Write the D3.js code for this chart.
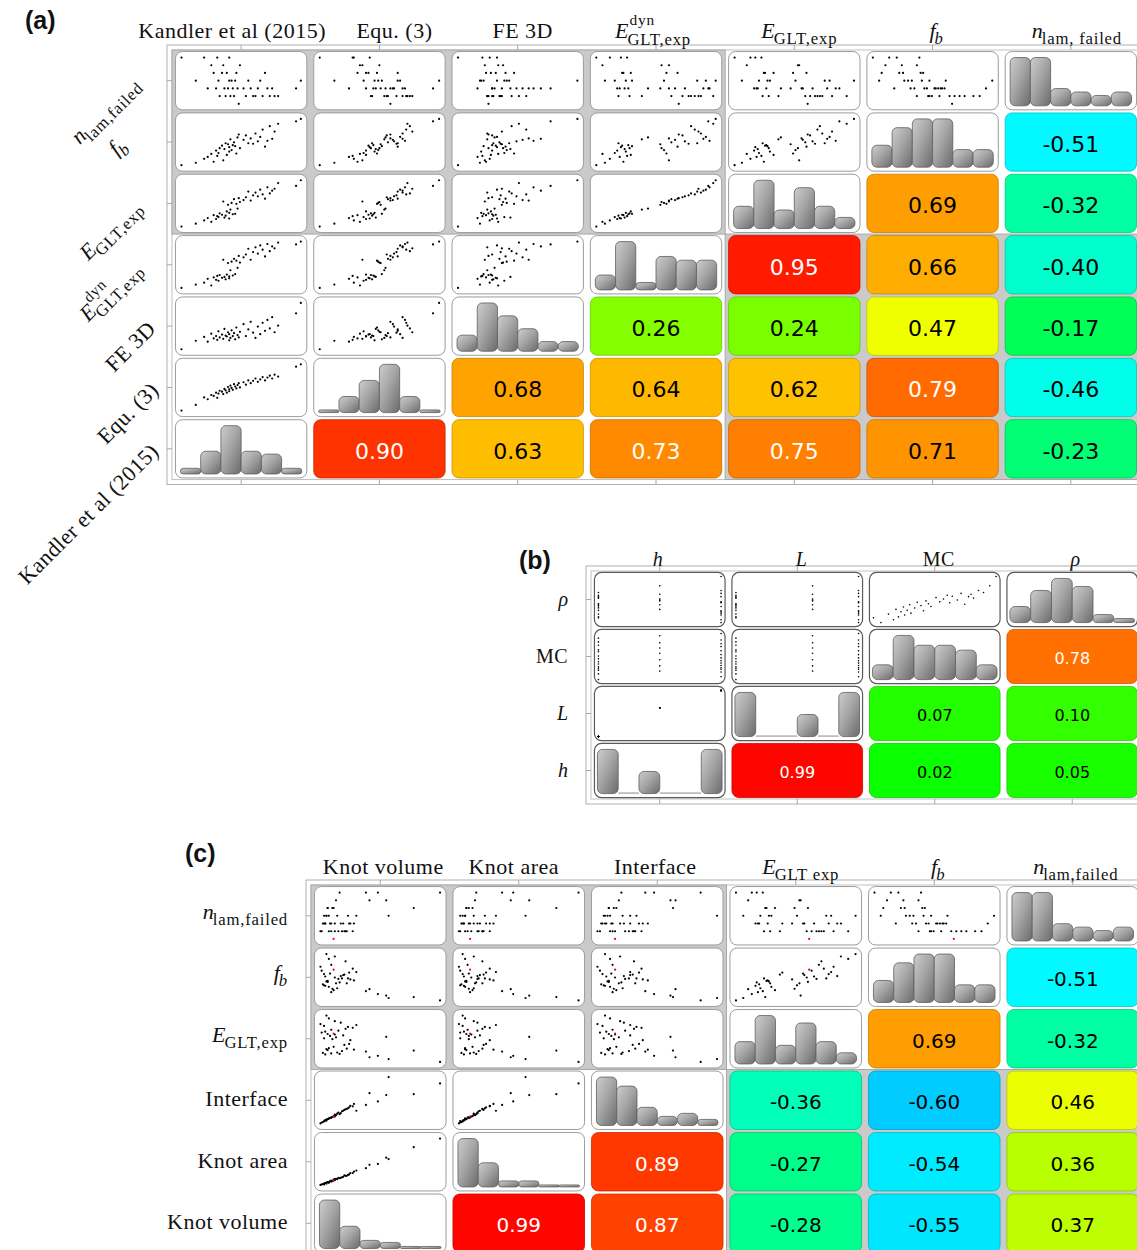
<!DOCTYPE html>
<html><head><meta charset="utf-8">
<script src="https://cdn.jsdelivr.net/npm/d3@7"></script>
<style>body{margin:0;background:#fff} svg{display:block}</style>
</head><body>
<svg id="chart" width="1137" height="1250"></svg>
<script>
// ---------------- DATA (values read/estimated from the picture) ----------------
// Panel (a)/(c): 44 specimens, normalised 0-100
const sampleKandler = [0,12,19,22,25,27,29,30,31,32,34,35,36,37,38,39,40,40,41,42,43,44,45,46,47,48,49,52,54,56,58,60,62,64,66,68,70,72,74,76,78,81,96,100];
const sampleEqu3    = [2,14,30,26,35,33,40,29,38,44,42,37,48,45,40,52,47,43,55,50,46,58,53,49,56,60,51,62,57,66,60,65,70,63,68,73,66,72,76,70,78,74,95,100];
const sampleFE3D    = [2,20,28,18,35,25,30,22,40,27,33,24,45,31,29,38,21,34,26,42,30,36,23,48,32,27,39,55,30,44,60,37,26,50,34,58,41,64,46,70,38,52,78,100];
const sampleEdyn    = [3,10,14,22,8,25,20,28,18,30,24,62,26,21,31,55,27,23,40,58,29,64,32,60,45,70,56,67,73,85,62,78,88,75,92,83,69,95,80,90,86,98,94,100];
const sampleEGLT    = [2,8,15,20,12,26,18,24,22,30,27,55,21,25,34,48,31,19,38,52,28,60,29,50,40,62,54,58,64,76,57,68,74,66,80,70,61,85,72,78,82,94,88,100];
const sampleFb      = [5,10,18,22,28,12,35,24,30,40,45,15,38,50,26,48,33,42,58,36,46,52,44,29,62,68,40,57,66,50,60,49,70,54,63,78,43,55,85,59,74,90,95,100];
const sampleNlam    = [6,3,6,2,5,4,2,6,3,1,4,5,2,1,4,2,3,6,1,3,2,1,3,4,2,0,5,2,1,3,2,1,1,2,3,1,4,2,1,2,1,1,2,3];
const sampleKnotVol = [100,57,48,9,41,78,4,38,14,22,6,55,2,18,11,25,7,16,20,3,28,12,5,10,24,11,13,19,1,23,8,15,27,4,30,9,6,17,21,3,0,7,12,5];
const sampleKnotArea= [98,55,45,10,43,80,5,36,13,20,7,58,3,17,12,26,6,15,21,2,29,11,6,9,23,10,14,18,2,22,9,16,26,5,31,8,7,16,20,4,1,6,13,4];
const sampleInterface=[82,95,45,12,62,60,6,38,20,30,9,58,3,25,15,36,10,19,28,5,40,14,8,13,33,14,17,26,2,31,11,22,35,7,26,12,9,21,29,4,0,10,18,6];
const highlightSample = 25; // red specimen in panel (c)

// histogram counts (6 bins each)
const histKandler = [2,8,17,8,7,2];
const histEqu3    = [1,6,12,18,6,1];
const histFE3D    = [5,15,11,7,3,3];
const histEdyn    = [4,13,2,9,8,8];
const histEGLT    = [6,13,5,11,6,3];
const histFb      = [5,9,11,11,4,4];
const histNlam    = [14,14,5,4,3,4];
const histKnotVol = [24,11,4,3,1,1];
const histKnotArea= [24,12,3,3,1,1];
const histInterface=[16,13,6,3,4,2];

// correlation coefficients (upper triangles, column order)
const corrA = [
  [0.90, 0.63, 0.73, 0.75, 0.71, -0.23],
  [0.68, 0.64, 0.62, 0.79, -0.46],
  [0.26, 0.24, 0.47, -0.17],
  [0.95, 0.66, -0.40],
  [0.69, -0.32],
  [-0.51]
];
const corrC = [
  [0.99, 0.87, -0.28, -0.55, 0.37],
  [0.89, -0.27, -0.54, 0.36],
  [-0.36, -0.60, 0.46],
  [0.69, -0.32],
  [-0.51]
];
const corrB = [
  [0.99, 0.02, 0.05],
  [0.07, 0.10],
  [0.78]
];

// Panel (b): 35 specimens
const sampleH   = [100,200,100,200,150,100,200,100,200,100,150,200,100,200,100,200,150,100,200,100,200,150,100,200,100,150,200,100,200,150,100,200,100,150,200];
const sampleL   = [2000,4000,2000,4000,3250,2000,4000,2000,4000,2000,3250,4000,2000,4000,2000,4000,3250,2000,4000,2000,4000,3250,2000,4000,2000,3250,4000,2000,4000,3250,2000,4000,2000,3250,4000];
const sampleMC  = [2,8,14,18,20,22,24,26,27,29,31,32,35,37,40,42,44,46,48,52,55,58,61,63,65,69,72,75,78,80,82,86,90,95,100];
const sampleRho = [12,2,20,8,30,14,25,35,18,28,40,22,33,45,38,27,48,42,36,55,46,52,60,44,58,50,64,41,57,62,54,70,66,80,100];
const histH   = [14,0,7,0,0,14];
const histL   = [14,0,0,7,0,14];
const histMC  = [3,9,7,7,6,3];
const histRho = [4,8,11,9,2,1];

// labels
const headA = [{t:"Kandler et al (2015)"},{t:"Equ. (3)"},{t:"FE 3D"},{b:"E",sup:"dyn",sub:"GLT,exp"},{b:"E",sub:"GLT,exp"},{b:"f",sub:"b",subItalic:true},{b:"n",sub:"lam, failed"}];
const rowA  = [{t:"Kandler et al (2015)"},{t:"Equ. (3)"},{t:"FE 3D"},{b:"E",sup:"dyn",sub:"GLT,exp"},{b:"E",sub:"GLT,exp"},{b:"f",sub:"b",subItalic:true},{b:"n",sub:"lam,failed"}];
const headB = [{b:"h"},{b:"L"},{t:"MC"},{b:"ρ"}];
const headC = [{t:"Knot volume"},{t:"Knot area"},{t:"Interface"},{b:"E",sub:"GLT exp"},{b:"f",sub:"b",subItalic:true},{b:"n",sub:"lam,failed"}];
const rowC  = [{t:"Knot volume"},{t:"Knot area"},{t:"Interface"},{b:"E",sub:"GLT,exp"},{b:"f",sub:"b",subItalic:true},{b:"n",sub:"lam,failed"}];

// ---------------- DRAWING ----------------
const SERIF = "'Liberation Serif','Times New Roman',serif";
const SANS = "'DejaVu Sans',Verdana,sans-serif";
const svg = d3.select("#chart");
svg.append("rect").attr("width",1137).attr("height",1250).attr("fill","#fff");
const defs = svg.append("defs");
const grad = defs.append("linearGradient").attr("id","barGrad").attr("x1","0").attr("y1","0").attr("x2","1").attr("y2","1");
grad.append("stop").attr("offset","0").attr("stop-color","#cdcdcd");
grad.append("stop").attr("offset","0.45").attr("stop-color","#a6a6a6");
grad.append("stop").attr("offset","1").attr("stop-color","#6a6a6a");

const hueScale = d3.scaleLinear().domain([-1,1]).range([240,0]);
const corrColor = r => d3.hsl(hueScale(r),1,0.5).formatHex();
const fmt = d3.formatLocale({decimal:".",thousands:",",grouping:[3],currency:["",""],minus:"-"}).format(".2f");

// one <text> per label; sub/superscripts are tspans
function mathLabel(parent, spec, size, anchor, transform){
  const outer = parent.append("g").attr("transform", transform);
  const g = outer.append("g");
  const t = g.append("text").attr("font-family",SERIF).attr("font-size",size).attr("fill","#111");
  let w;
  if (spec.t !== undefined){
    t.attr("letter-spacing",0.5).text(spec.t);
    w = t.node().getComputedTextLength();
  } else {
    const b = t.append("tspan").attr("x",0).attr("y",0).attr("font-style","italic").text(spec.b);
    const wb = b.node().getComputedTextLength();
    w = wb;
    const ss = size*0.76;
    if (spec.sup){
      const s = t.append("tspan").attr("x",wb+1).attr("y",-size*0.58).attr("font-size",size*0.7).attr("letter-spacing",0.8).text(spec.sup);
      w = Math.max(w, wb+1+s.node().getComputedTextLength());
    }
    if (spec.sub){
      const sx = wb - 1;
      const s = t.append("tspan").attr("x",sx).attr("y",size*(spec.sup?0.3:0.28)).attr("font-size",ss).attr("letter-spacing",0.8).text(spec.sub);
      if (spec.subItalic) s.attr("font-style","italic");
      w = Math.max(w, sx+s.node().getComputedTextLength());
    }
  }
  const shift = anchor==="end" ? w : anchor==="middle" ? w/2 : 0;
  g.attr("transform",`translate(${-shift},0)`);
  return outer;
}

function drawPanel(p){
  const n = p.vars.length;
  const g = svg.append("g");
  const xb = d3.scaleBand().domain(d3.range(n)).range(p.xr).paddingInner(0.05).paddingOuter(0.025);
  const yb = d3.scaleBand().domain(d3.range(n)).range(p.yr).paddingInner(0.05).paddingOuter(0.025);
  const [x0,x1] = p.xr, [y0,y1] = p.yr;
  g.append("rect").attr("x",x0-5).attr("y",y0-5).attr("width",x1-x0+10).attr("height",y1-y0+10).attr("fill","#fff").attr("stroke","#b0b0b0");
  g.append("rect").attr("x",x0).attr("y",y0).attr("width",x1-x0).attr("height",y1-y0).attr("fill","#fff").attr("stroke","#c2c2c2");
  const hx = xb.step()*0.025, hy = yb.step()*0.025;
  (p.grayBlocks||[]).forEach(([r0,r1,c0,c1])=>{
    const bx0 = xb(c0)-hx, bx1 = xb(c1)+xb.bandwidth()+hx;
    const by0 = yb(r0)-hy, by1 = yb(r1)+yb.bandwidth()+hy;
    g.append("rect").attr("x",bx0).attr("y",by0).attr("width",bx1-bx0).attr("height",by1-by0).attr("fill","#cacaca").attr("stroke","#a9a9a9");
  });
  // ticks
  d3.range(n).forEach(i=>{
    const cx = xb(i)+xb.bandwidth()/2, cy = yb(i)+yb.bandwidth()/2;
    g.append("line").attr("x1",cx).attr("x2",cx).attr("y1",y0-5).attr("y2",y0).attr("stroke","#a8a8a8");
    g.append("line").attr("x1",cx).attr("x2",cx).attr("y1",y1).attr("y2",y1+5).attr("stroke","#a8a8a8");
    g.append("line").attr("x1",x0-5).attr("x2",x0).attr("y1",cy).attr("y2",cy).attr("stroke","#a8a8a8");
  });
  const w = xb.bandwidth(), h = yb.bandwidth();
  for (let r=0;r<n;r++){
    for (let c=0;c<n;c++){
      const yi = n-1-r, xi = c;
      const cx = xb(c), cy = yb(r);
      if (xi > yi){
        const v = p.corr[yi][xi-yi-1];
        const fill = corrColor(v);
        g.append("rect").attr("x",cx).attr("y",cy).attr("width",w).attr("height",h).attr("rx",7)
          .attr("fill",fill).attr("stroke",d3.color(fill).darker(0.7)).attr("stroke-width",0.8);
        g.append("text").attr("x",cx+w/2).attr("y",cy+h/2+p.numSize*0.45).attr("text-anchor","middle")
          .attr("font-family",SANS).attr("font-size",p.numSize).attr("fill", v>0.72 ? "#fff" : "#000").text(fmt(v));
        continue;
      }
      g.append("rect").attr("x",cx).attr("y",cy).attr("width",w).attr("height",h).attr("rx",7)
        .attr("fill","#fff").attr("stroke",p.cellStroke).attr("stroke-width",p.cellStrokeW);
      if (xi === yi){
        const counts = p.vars[xi].hist;
        const bins = d3.scaleBand().domain(d3.range(counts.length)).range([cx+p.histPad, cx+w-p.histPad]);
        const hs = d3.scaleLinear().domain([0,d3.max(counts)]).range([0,h-10]);
        const base = cy+h-4;
        counts.forEach((k,i)=>{
          if (k===0){
            g.append("line").attr("x1",bins(i)).attr("x2",bins(i)+bins.bandwidth()).attr("y1",base-0.5).attr("y2",base-0.5).attr("stroke","#8a8a8a");
          } else {
            const bh = hs(k);
            g.append("rect").attr("x",bins(i)).attr("y",base-bh).attr("width",bins.bandwidth()).attr("height",bh)
              .attr("rx",Math.min(5,bh/2)).attr("fill","url(#barGrad)").attr("stroke","#5e5e5e").attr("stroke-width",0.8);
          }
        });
      } else {
        const X = p.vars[xi].values, Y = p.vars[yi].values;
        const sx = d3.scaleLinear().domain(d3.extent(X)).range([cx+p.dotPad, cx+w-p.dotPad]);
        const sy = d3.scaleLinear().domain(d3.extent(Y)).range([cy+h-p.dotPad, cy+p.dotPad]);
        X.forEach((xv,i)=>{
          if (i===p.highlight) return;
          g.append("circle").attr("cx",sx(xv)).attr("cy",sy(Y[i])).attr("r",p.dotR).attr("fill","#000");
        });
        if (p.highlight!==undefined){
          g.append("circle").attr("cx",sx(X[p.highlight])).attr("cy",sy(Y[p.highlight])).attr("r",p.dotR).attr("fill","#ff0000");
        }
      }
    }
  }
  // headers
  p.vars.forEach((v,c)=>{
    mathLabel(g, v.head, p.labelSize, "middle", `translate(${xb(c)+w/2+p.headDx[c]},${p.headY})`);
  });
  // row labels
  d3.range(n).forEach(r=>{
    const yi = n-1-r, spec = p.vars[yi].row;
    const yc = yb(r)+h/2;
    if (p.rowXEnd){
      mathLabel(g, spec, p.labelSize, "end", `translate(${p.rowXEnd[r]},${yc+4}) rotate(-45)`);
    } else {
      mathLabel(g, spec, p.labelSize, "end", `translate(${p.rowX},${yc+(spec.sub?3:6)})`);
    }
  });
}

const varsA = [
  {values:sampleKandler, hist:histKandler, head:headA[0], row:rowA[0]},
  {values:sampleEqu3, hist:histEqu3, head:headA[1], row:rowA[1]},
  {values:sampleFE3D, hist:histFE3D, head:headA[2], row:rowA[2]},
  {values:sampleEdyn, hist:histEdyn, head:headA[3], row:rowA[3]},
  {values:sampleEGLT, hist:histEGLT, head:headA[4], row:rowA[4]},
  {values:sampleFb, hist:histFb, head:headA[5], row:rowA[5]},
  {values:sampleNlam, hist:histNlam, head:headA[6], row:rowA[6]}
];
drawPanel({vars:varsA, corr:corrA, xr:[172,1140], yr:[50,479.5], numSize:22, labelSize:22,
  grayBlocks:[[0,2,0,3],[3,6,4,6]], cellStroke:"#9c9c9c", cellStrokeW:1, histPad:5, dotPad:6, dotR:1.1,
  headY:38, headDx:[-9,15,5,-3,5,4,6], rowXEnd:[140,127,142,142,157,160,160]});

const varsB = [
  {values:sampleH, hist:histH, head:headB[0], row:headB[0]},
  {values:sampleL, hist:histL, head:headB[1], row:headB[1]},
  {values:sampleMC, hist:histMC, head:headB[2], row:headB[2]},
  {values:sampleRho, hist:histRho, head:headB[3], row:headB[3]}
];
drawPanel({vars:varsB, corr:corrB, xr:[591,1141], yr:[571,799], numSize:16, labelSize:20,
  grayBlocks:[], cellStroke:"#5a5a5a", cellStrokeW:1.2, histPad:3, dotPad:4, dotR:0.8,
  headY:566, headDx:[-2,4,4,3], rowX:568});

const varsC = [
  {values:sampleKnotVol, hist:histKnotVol, head:headC[0], row:rowC[0]},
  {values:sampleKnotArea, hist:histKnotArea, head:headC[1], row:rowC[1]},
  {values:sampleInterface, hist:histInterface, head:headC[2], row:rowC[2]},
  {values:sampleEGLT, hist:histEGLT, head:headC[3], row:rowC[3]},
  {values:sampleFb, hist:histFb, head:headC[4], row:rowC[4]},
  {values:sampleNlam, hist:histNlam, head:headC[5], row:rowC[5]}
];
drawPanel({vars:varsC, corr:corrC, xr:[311,1142], yr:[885,1254], numSize:20, labelSize:22,
  grayBlocks:[[0,2,0,2],[3,5,3,5]], cellStroke:"#9c9c9c", cellStrokeW:1, histPad:5, dotPad:6, dotR:1.1,
  headY:874, headDx:[3,-5,-2,5,4,3], rowX:288, highlight:highlightSample});

// panel letters
[["(a)",25,29],["(b)",519,569],["(c)",185,862]].forEach(([t,x,y])=>{
  svg.append("text").attr("x",x).attr("y",y).attr("font-family","'Liberation Sans',Arial,sans-serif")
    .attr("font-weight","bold").attr("font-size",25).attr("fill","#111").text(t);
});
</script>
</body></html>
